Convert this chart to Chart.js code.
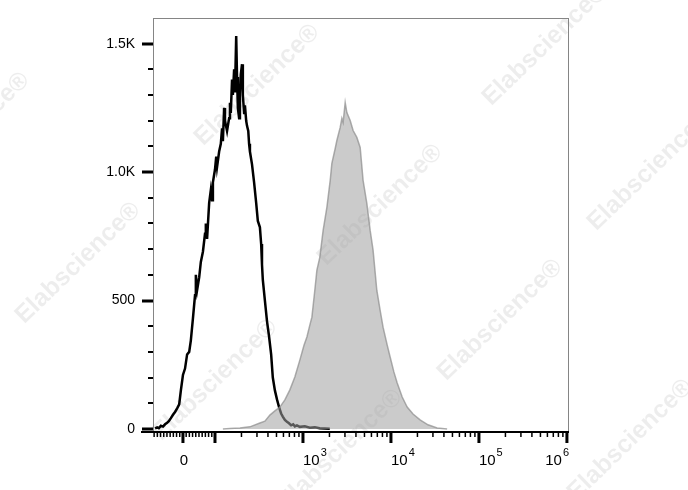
<!DOCTYPE html>
<html>
<head>
<meta charset="utf-8">
<script src="https://cdn.jsdelivr.net/npm/chart.js@4"></script>
<style>
  html, body { margin: 0; padding: 0; background: #fff; }
  #wrap { width: 688px; height: 490px; }
</style>
</head>
<body>
<div id="wrap"><canvas id="histChart"></canvas></div>
<script>
// display channels (0-1000 across the plot) and event counts
const blackCh = [5, 10, 14, 19, 24, 29, 34, 38, 43, 48, 53, 58, 63, 67, 72, 77, 82, 87, 91, 96,
  101, 103, 106, 111, 115, 120, 125, 127, 130, 135, 139, 142, 144, 149, 152, 154, 159, 163, 166, 168,
  171, 173, 178, 183, 185, 187, 190, 192, 195, 197, 200, 202, 204, 207, 209, 211, 214, 216, 219, 221,
  224, 226, 229, 231, 233, 238, 243, 248, 252, 257, 260, 262, 264, 269, 274, 279, 284, 288, 293, 298,
  303, 308, 312, 317, 322, 327, 332, 337, 341, 346, 353, 365, 377, 389, 401, 413, 425];
const blackCount = [2, 6, 3, 12, 9, 18, 24, 30, 42, 55, 66, 80, 96, 150, 210, 235, 290, 300, 345, 430,
  520, 600, 540, 590, 650, 690, 760, 800, 740, 880, 930, 890, 960, 1010, 1060, 1020, 1080, 1110, 1170, 1120,
  1250, 1200, 1160, 1210, 1270, 1230, 1360, 1300, 1400, 1310, 1530, 1370, 1250, 1210, 1300, 1380, 1420, 1300, 1230, 1260,
  1200, 1180, 1160, 1110, 1080, 1030, 960, 880, 810, 785, 720, 640, 580, 500, 420, 360, 290, 200, 150, 115,
  85, 60, 48, 35, 28, 22, 14, 18, 10, 14, 8, 10, 5, 6, 3, 2, 1];

const grayCh = [168, 185, 209, 233, 257, 269, 281, 293, 305, 317, 329, 341, 353, 363, 370, 377, 382, 389, 394, 401,
  409, 418, 426, 430, 438, 442, 450, 454, 457, 462, 466, 474, 481, 490, 498, 505, 514, 522, 529, 538,
  546, 553, 563, 570, 579, 587, 599, 611, 625, 642, 661, 683, 707];
const grayCount = [0, 2, 4, 8, 23, 30, 54, 70, 85, 113, 152, 202, 268, 326, 358, 404, 435, 540, 618, 668,
  773, 863, 968, 1034, 1092, 1123, 1174, 1209, 1193, 1271, 1232, 1201, 1162, 1135, 1096, 968, 878, 773, 696, 540,
  462, 396, 326, 280, 222, 179, 124, 85, 58, 35, 16, 4, 0];

const yMajor = [0, 500, 1000, 1500];
const yLabels = ['0', '500', '1.0K', '1.5K'];
const xDecades = [3, 4, 5, 6];

// biexponential-like display: linear near zero, log above 100
function chOf(v) {
  if (Math.abs(v) <= 100) return 72 + v * 0.77;
  return 149 + 211.5 * (Math.log10(v) - 2);
}

const wmarks = [[257, 85], [545, 45], [380, 205], [650, 170], [78, 263], [500, 320],
  [215, 380], [340, 450], [630, 440], [-33, 133]];

const flowAxes = {
  id: 'flowAxes',
  beforeDatasetsDraw(chart) {
    const ctx = chart.ctx;
    ctx.save();
    ctx.fillStyle = 'rgba(0,0,0,0.07)';
    ctx.font = 'bold 25px "Liberation Sans", Arial, sans-serif';
    ctx.textAlign = 'center';
    ctx.textBaseline = 'middle';
    wmarks.forEach(p => {
      ctx.save();
      ctx.translate(p[0], p[1]);
      ctx.rotate(-44 * Math.PI / 180);
      ctx.fillText('Elabscience\u00AE', 0, 0);
      ctx.restore();
    });
    ctx.restore();
  },
  afterDraw(chart) {
    const ctx = chart.ctx;
    const a = chart.chartArea;
    const xs = chart.scales.x, ys = chart.scales.y;
    ctx.save();
    // frame
    ctx.strokeStyle = '#858585';
    ctx.lineWidth = 1;
    ctx.strokeRect(a.left + 0.5, a.top + 0.5, a.right - a.left - 1, a.bottom - a.top);
    ctx.strokeStyle = '#000';
    ctx.lineWidth = 2;
    ctx.beginPath();
    ctx.moveTo(a.left - 12, a.bottom);
    ctx.lineTo(a.right, a.bottom);
    ctx.stroke();

    // y ticks
    ctx.fillStyle = '#000';
    for (let v = 0; v <= 1500; v += 100) {
      const y = Math.round(ys.getPixelForValue(v));
      if (v % 500 === 0) ctx.fillRect(a.left - 11, y - 1.5, 11, 3);
      else ctx.fillRect(a.left - 5, y - 1, 5, 2);
    }
    ctx.font = '14px "Liberation Sans", Arial, sans-serif';
    ctx.textAlign = 'right';
    ctx.textBaseline = 'middle';
    yMajor.forEach((v, i) => ctx.fillText(yLabels[i], a.left - 18, ys.getPixelForValue(v)));

    // x ticks
    const minor = [];
    for (let k = 1; k <= 9; k++) { minor.push(-10 * k); minor.push(10 * k); }
    for (let d = 2; d <= 5; d++) for (let k = 2; k <= 9; k++) minor.push(k * Math.pow(10, d));
    minor.forEach(v => {
      const x = xs.getPixelForValue(chOf(v));
      if (x >= a.left && x <= a.right) ctx.fillRect(x - 0.75, a.bottom, 1.5, 5);
    });
    [0, 100, 1e3, 1e4, 1e5, 1e6].forEach(v => {
      const x = xs.getPixelForValue(chOf(v));
      ctx.fillRect(x - 1.5, a.bottom, 3, 11);
    });

    // x labels
    const base = 465;
    ctx.textBaseline = 'alphabetic';
    ctx.textAlign = 'center';
    ctx.font = '15px "Liberation Sans", Arial, sans-serif';
    ctx.fillText('0', xs.getPixelForValue(chOf(0)) + 1, base);
    xDecades.forEach(d => {
      const x = xs.getPixelForValue(chOf(Math.pow(10, d)));
      ctx.font = '15px "Liberation Sans", Arial, sans-serif';
      const w10 = ctx.measureText('10').width;
      ctx.font = '11px "Liberation Sans", Arial, sans-serif';
      const wsup = ctx.measureText(String(d)).width;
      let left = x;
      if (left + w10 + wsup + 1 > a.right) left = a.right - (w10 + wsup + 1);
      ctx.textAlign = 'left';
      ctx.font = '15px "Liberation Sans", Arial, sans-serif';
      ctx.fillText('10', left, base);
      ctx.font = '11px "Liberation Sans", Arial, sans-serif';
      ctx.fillText(String(d), left + w10 + 1, base - 9);
    });
    ctx.restore();
  }
};

const blackPts = blackCh.map((c, i) => ({ x: c, y: blackCount[i] }));
const grayPts = grayCh.map((c, i) => ({ x: c, y: grayCount[i] }));

const config = {
  type: 'line',
  data: {
    datasets: [
      {
        label: 'Control',
        data: blackPts,
        borderColor: '#000000',
        borderWidth: 2.5,
        pointRadius: 0,
        fill: false,
        tension: 0,
        order: 2,
      },
      {
        label: 'Stained',
        data: grayPts,
        borderColor: 'rgba(140,140,140,0.7)',
        backgroundColor: 'rgba(160,160,160,0.55)',
        borderWidth: 1.5,
        pointRadius: 0,
        fill: 'origin',
        tension: 0,
        order: 1,
      },
    ],
  },
  options: {
    responsive: true,
    maintainAspectRatio: false,
    animation: false,
    layout: { padding: { left: 153, top: 18, right: 119, bottom: 58 } },
    scales: {
      x: { type: 'linear', min: 0, max: 1000, display: false },
      y: { min: -12, max: 1600, display: false },
    },
    plugins: {
      legend: { display: false },
      tooltip: { enabled: false },
    },
  },
  plugins: [flowAxes],
};

new Chart(document.getElementById('histChart').getContext('2d'), config);
</script>
</body>
</html>
